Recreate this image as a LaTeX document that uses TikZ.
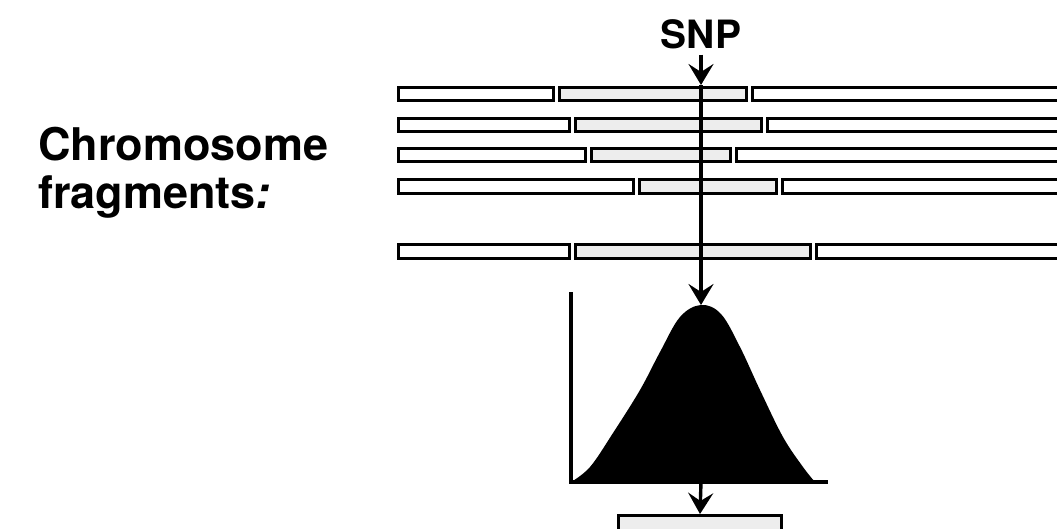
\documentclass[tikz,border=0pt]{standalone}
\usepackage{fontspec}
\setmainfont{TeX Gyre Heros}
\usetikzlibrary{arrows.meta}
\begin{document}
\begin{tikzpicture}[x=1pt,y=-1pt,
  seg/.style={draw=black,line width=3pt,fill=white},
  lseg/.style={draw=black,line width=3pt,fill=black!7},
  snpline/.style={line width=3.4pt,-{Stealth[length=21pt,width=25pt,inset=8pt]}},
  lab/.style={font=\fontsize{45}{54}\selectfont\bfseries,inner sep=0pt,anchor=base west}]
\useasboundingbox (0,0) rectangle (1057,528);
% labels
\node[lab] (chrom) at (38,160) {Chromosome};
\node[lab] (frag) at (38,208) {fragments\textit{:}};
\node[font=\fontsize{39}{44}\selectfont\bfseries,inner sep=0pt,anchor=base] (snp) at (701,48) {SNP};
% chromosome bars
\foreach \yt/\yb/\a/\b in {87/100/553/746, 118/131/569/761, 148/161/585/730, 179/193/633/776, 244/258/569/810}{
  \draw[seg] (398,\yt) rectangle (\a,\yb);
  \draw[lseg] (\a+6,\yt) rectangle (\b,\yb);
  \draw[seg] (\b+6,\yt) rectangle (1065,\yb);
}
% distribution
\draw[line width=3.6pt] (571,292) -- (571,482) -- (828,482);
\fill[black] plot[smooth,tension=0.6] coordinates {(571,482) (590,467) (613,433) (640,390) (660,352) (680,317) (701,305) (721,314) (740,347) (760,390) (783,437) (803,467) (815,482)} -- cycle;
% coordinates and result box
\coordinate (toprow) at (701,85);
\coordinate (peak) at (701,305);
\coordinate (foot) at (701,482);
\node[draw=black,line width=3pt,fill=black!7,minimum width=163pt,minimum height=22pt,inner sep=0pt,anchor=north] (res) at (700,514) {};
% arrows
\draw[snpline] ([yshift=-6pt]snp.south) -- (toprow);
\draw[snpline] (toprow) -- (peak);
\draw[snpline] (foot) -- (res.north);
\end{tikzpicture}
\end{document}
